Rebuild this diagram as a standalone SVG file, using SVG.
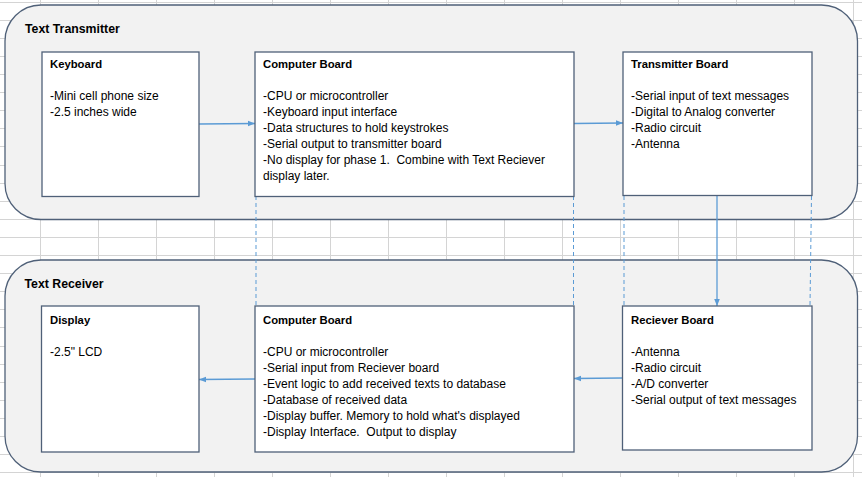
<svg xmlns="http://www.w3.org/2000/svg" width="862" height="477" viewBox="0 0 862 477">
<defs>
<marker id="ah" viewBox="0 0 10 10" refX="10" refY="5" markerWidth="7" markerHeight="7" markerUnits="userSpaceOnUse" orient="auto">
<path d="M0,1 L10,5 L0,9 Z" fill="#5b9bd5"/>
</marker>
<style>
.grid{stroke:#d4d4d4;stroke-width:1;fill:none}
.cont{fill:#f2f2f2;stroke:#4f6078;stroke-width:1.3}
.node{fill:#ffffff;stroke:#4f6078;stroke-width:1.3}
.ct{font-family:"Liberation Sans",Arial,sans-serif;font-size:12.3px;font-weight:bold;fill:#000}
.nt{font-family:"Liberation Sans",Arial,sans-serif;font-size:11.3px;font-weight:bold;fill:#000}
.bt{font-family:"Liberation Sans",Arial,sans-serif;font-size:12px;fill:#000;white-space:pre}
.arr{stroke:#5b9bd5;stroke-width:1.3;fill:none;marker-end:url(#ah)}
.dash{stroke:#5b9bd5;stroke-width:1;fill:none;stroke-dasharray:4 3}
</style>
</defs>
<rect x="0" y="0" width="862" height="477" fill="#ffffff"/>
<g id="grid">
<path class="grid" d="M40.5,0V477M98.5,0V477M156.5,0V477M214.5,0V477M272.5,0V477M330.5,0V477M388.5,0V477M446.5,0V477M504.5,0V477M562.5,0V477M620.5,0V477M678.5,0V477M736.5,0V477M794.5,0V477M853.5,0V477"/>
<path class="grid" d="M0,2.5H862M0,20.5H862M0,38.5H862M0,56.5H862M0,74.5H862M0,92.5H862M0,110.5H862M0,128.5H862M0,146.5H862M0,165.5H862M0,183.5H862M0,201.5H862M0,219.5H862M0,237.5H862M0,255.5H862M0,273.5H862M0,291.5H862M0,309.5H862M0,327.5H862M0,346.5H862M0,364.5H862M0,382.5H862M0,400.5H862M0,418.5H862M0,436.5H862M0,454.5H862M0,472.5H862"/>
</g>
<g id="text-transmitter">
<rect class="cont" x="5" y="5" width="852.5" height="214.5" rx="36" ry="36"/>
<text class="ct" x="25" y="32.5">Text Transmitter</text>
</g>
<g id="text-receiver">
<rect class="cont" x="5" y="260" width="852.5" height="212" rx="36" ry="36"/>
<text class="ct" x="24.5" y="288">Text Receiver</text>
</g>
<g id="connectors">
<line class="dash" x1="256" y1="196" x2="256" y2="306"/>
<line class="dash" x1="573.5" y1="196" x2="573.5" y2="306"/>
<line class="dash" x1="624" y1="196" x2="624" y2="306"/>
<line class="dash" x1="811.5" y1="196" x2="810" y2="306"/>
<line class="arr" x1="199" y1="124" x2="255" y2="123.5"/>
<line class="arr" x1="574" y1="123.5" x2="623" y2="123"/>
<line class="arr" x1="717" y1="196" x2="717" y2="306"/>
<line class="arr" x1="622" y1="378" x2="574" y2="378.5"/>
<line class="arr" x1="255" y1="379" x2="199" y2="379.5"/>
</g>
<g id="keyboard">
<rect class="node" x="42" y="52" width="157" height="144.5"/>
<text class="nt" x="50" y="68">Keyboard</text>
<text class="bt" x="50" y="100">-Mini cell phone size</text>
<text class="bt" x="50" y="116">-2.5 inches wide</text>
</g>
<g id="computer-board-tx">
<rect class="node" x="255" y="52" width="319" height="144.5"/>
<text class="nt" x="263" y="68">Computer Board</text>
<text class="bt" x="263" y="100">-CPU or microcontroller</text>
<text class="bt" x="263" y="116">-Keyboard input interface</text>
<text class="bt" x="263" y="132">-Data structures to hold keystrokes</text>
<text class="bt" x="263" y="148">-Serial output to transmitter board</text>
<text class="bt" x="263" y="164">-No display for phase 1.  Combine with Text Reciever</text>
<text class="bt" x="263" y="180">display later.</text>
</g>
<g id="transmitter-board">
<rect class="node" x="623" y="52" width="189" height="143.5"/>
<text class="nt" x="631" y="68">Transmitter Board</text>
<text class="bt" x="631" y="100">-Serial input of text messages</text>
<text class="bt" x="631" y="116">-Digital to Analog converter</text>
<text class="bt" x="631" y="132">-Radio circuit</text>
<text class="bt" x="631" y="148">-Antenna</text>
</g>
<g id="display">
<rect class="node" x="41.5" y="306" width="157.5" height="146"/>
<text class="nt" x="50" y="324">Display</text>
<text class="bt" x="50" y="356">-2.5" LCD</text>
</g>
<g id="computer-board-rx">
<rect class="node" x="255" y="306" width="319" height="146"/>
<text class="nt" x="263" y="324">Computer Board</text>
<text class="bt" x="263" y="356">-CPU or microcontroller</text>
<text class="bt" x="263" y="372">-Serial input from Reciever board</text>
<text class="bt" x="263" y="388">-Event logic to add received texts to database</text>
<text class="bt" x="263" y="404">-Database of received data</text>
<text class="bt" x="263" y="420">-Display buffer. Memory to hold what's displayed</text>
<text class="bt" x="263" y="436">-Display Interface.  Output to display</text>
</g>
<g id="reciever-board">
<rect class="node" x="622.5" y="306" width="189.5" height="144"/>
<text class="nt" x="631" y="324">Reciever Board</text>
<text class="bt" x="631" y="356">-Antenna</text>
<text class="bt" x="631" y="372">-Radio circuit</text>
<text class="bt" x="631" y="388">-A/D converter</text>
<text class="bt" x="631" y="404">-Serial output of text messages</text>
</g>
</svg>
